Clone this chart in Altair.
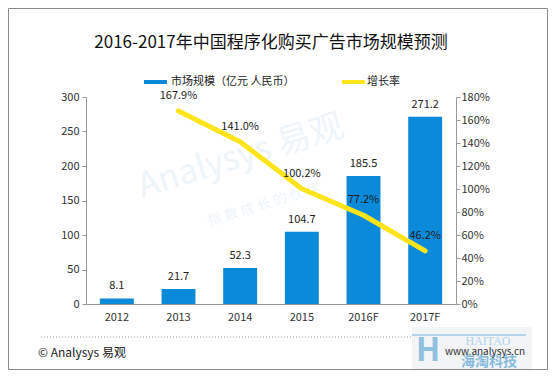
import altair as alt
import pandas as pd

years = ["2012", "2013", "2014", "2015", "2016F", "2017F"]
market = [8.1, 21.7, 52.3, 104.7, 185.5, 271.2]
growth = [None, 1.679, 1.410, 1.002, 0.772, 0.462]
growth_labels = ["", "167.9%", "141.0%", "100.2%", "77.2%", "46.2%"]
left_ticks = [0, 50, 100, 150, 200, 250, 300]
right_ticks = [0, 0.2, 0.4, 0.6, 0.8, 1.0, 1.2, 1.4, 1.6, 1.8]

title_text = "2016-2017年中国程序化购买广告市场规模预测"
legend_bar = "市场规模（亿元 人民币）"
legend_line = "增长率"

FONT = "Noto Sans CJK SC"
BLUE = "#0b8ad9"
YELLOW = "#ffe41c"

df = pd.DataFrame({"year": years, "market": market, "growth": growth, "glabel": growth_labels})
gdf = df.dropna()

x = alt.X("year:N", sort=years,
          scale=alt.Scale(paddingInner=0.45, paddingOuter=0.225),
          axis=alt.Axis(title=None, labelAngle=0, ticks=False, labelPadding=7,
                        labelFontSize=11, labelOverlap=False))

left_axis = alt.Axis(title=None, orient="left", values=left_ticks, labelPadding=3,
                     labelOverlap=False, tickCount=7)
right_axis = alt.Axis(title=None, orient="right", values=right_ticks, format=".0%",
                      labelPadding=1, labelOverlap=False, tickCount=10)
left_scale = alt.Scale(domain=[0, 300], nice=False)
right_scale = alt.Scale(domain=[0, 1.8], nice=False)

def txt(t, x, y, font=FONT, **kw):
    return alt.Chart(alt.Data(values=[{"t": t}])).mark_text(font=font, **kw).encode(
        x=alt.value(x), y=alt.value(y), text="t:N")

def box(x1, x2, y1, y2, **kw):
    return alt.Chart(alt.Data(values=[{"a": 1}])).mark_rect(**kw).encode(
        x=alt.value(x1), x2=alt.value(x2), y=alt.value(y1), y2=alt.value(y2))

def hrule(x1, x2, y, **kw):
    return alt.Chart(alt.Data(values=[{"a": 1}])).mark_rule(**kw).encode(
        x=alt.value(x1), x2=alt.value(x2), y=alt.value(y))

# annotations (plot origin at screen 86,97)
wm1 = txt("Analysys 易观", 155, 60, angle=343, fontSize=34, color="#edf5fb")
wm2 = txt("指 数 成 长 的 伙 伴", 178, 108, angle=343, fontSize=14, color="#edf5fb")
title = txt(title_text, 185, -54, fontSize=17, color="#111", align="center", baseline="middle")
leg1 = box(58, 81, -17, -13, fill=BLUE)
leg1t = txt(legend_bar, 85, -15, fontSize=11, color="#222", align="left", baseline="middle")
leg2 = box(256, 279, -17, -13, fill=YELLOW)
leg2t = txt(legend_line, 281, -15, fontSize=11, color="#222", align="left", baseline="middle")
sep = hrule(-45, 326, 240, color="#999", strokeDash=[1, 2], strokeWidth=1)
foot1 = txt("© Analysys 易观", -48, 256, fontSize=12, color="#222", align="left", baseline="middle")
logo_bg = box(326, 446, 230, 272, fill="#f2f4f6")
logo_bar = hrule(326, 440, 238, color="#b3d4ea", strokeWidth=2)
logo_h = txt("H", 342, 254, fontSize=32, fontWeight="bold", color="#8fc0e0", align="center", baseline="middle")
logo_en = txt("HAITAO", 402, 244, font="Liberation Serif", fontSize=12, color="#b0d2ea", align="center", baseline="middle")
logo_cn = txt("海淘科技", 403, 265, fontSize=14, fontWeight="bold", color="#86bade", align="center", baseline="middle")
foot2 = txt("www.analysys.cn", 359, 254.5, fontSize=10, color="#333", align="left", baseline="middle")
border = alt.Chart(alt.Data(values=[{"a": 1}])).mark_rect(filled=False, stroke="#8a8a8a", strokeWidth=1).encode(
    x=alt.value(-77.5), x2=alt.value(461.5), y=alt.value(-88.5), y2=alt.value(272.5))

bars = alt.Chart(df).mark_bar(color=BLUE).encode(
    x=x, y=alt.Y("market:Q", scale=left_scale, axis=left_axis))
bar_labels = alt.Chart(df).mark_text(font=FONT, fontSize=11, color="#222", baseline="middle", dy=-12).encode(
    x=x, y=alt.Y("market:Q", scale=left_scale, axis=left_axis),
    text=alt.Text("market:Q", format=".1f"))

left = alt.layer(wm1, wm2, bars, bar_labels, title, leg1, leg1t, leg2, leg2t,
                 sep, foot1, logo_bg, logo_bar, logo_h, logo_en, logo_cn, foot2, border)

line = alt.Chart(gdf).mark_line(color=YELLOW, strokeWidth=5, strokeCap="round", strokeJoin="round").encode(
    x=x, y=alt.Y("growth:Q", scale=right_scale, axis=right_axis))
line_labels = alt.Chart(gdf).mark_text(font=FONT, fontSize=11, color="#1a1a1a", baseline="middle", dy=-15).encode(
    x=x, y=alt.Y("growth:Q", scale=right_scale, axis=right_axis), text="glabel:N")
right = alt.layer(line, line_labels)

chart = alt.layer(left, right).resolve_scale(y="independent").properties(
    width=370, height=207,
    padding={"left": 78, "top": 89, "right": 92, "bottom": 66},
    autosize=alt.AutoSizeParams(type="none"),
    background="white",
).configure_view(stroke=None).configure_axis(
    grid=False, labelFont=FONT, labelFontSize=11, labelColor="#333",
    domainColor="#999", tickColor="#999", tickSize=4, labelOverlap=False)

chart.save("out.html", embed_options={"renderer": "svg", "actions": False})
